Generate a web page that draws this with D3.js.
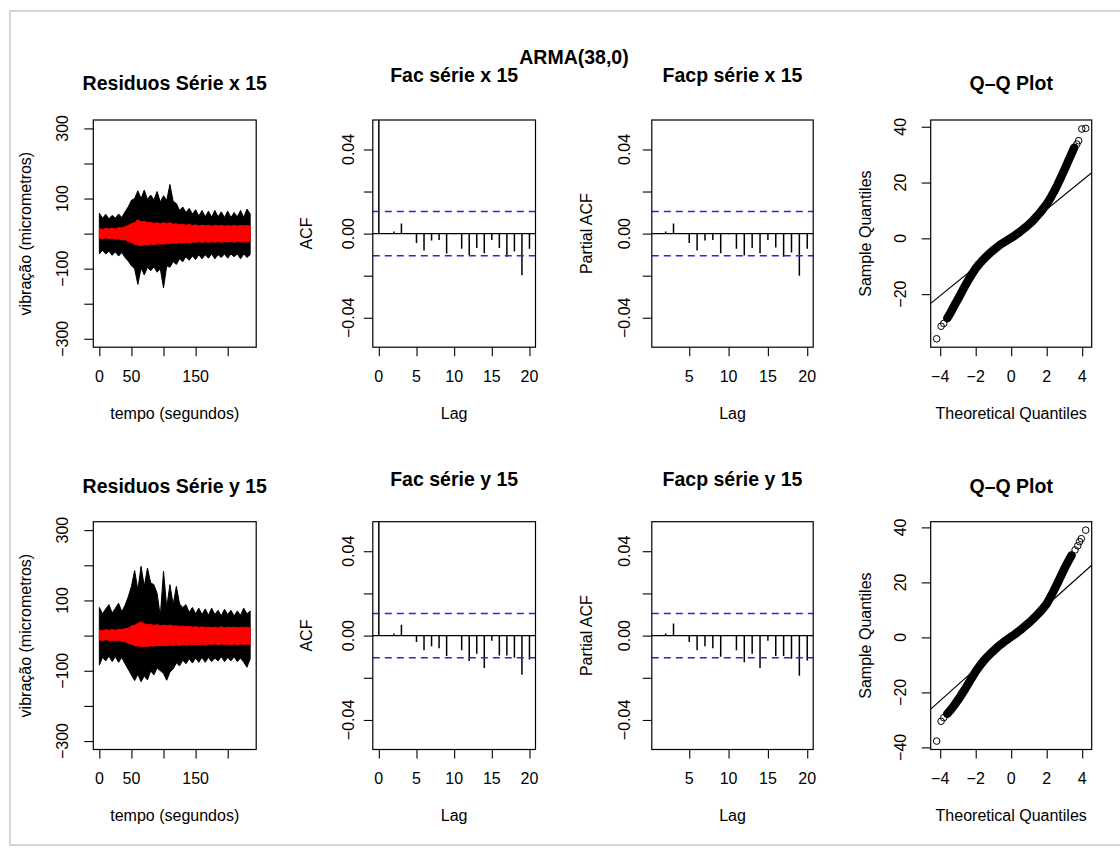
<!DOCTYPE html>
<html>
<head>
<meta charset="utf-8">
<script src="https://cdn.jsdelivr.net/npm/d3@7"></script>
<style>
body { margin: 0; background: #fff; }
svg text { font-family: "Liberation Sans", Arial, Helvetica, sans-serif; fill: #000; }
</style>
</head>
<body>
<div id="chart"></div>
<script>
// tempo (s) for the residual envelopes, 5 s bins
var tempo = [0,5,10,15,20,25,30,35,40,45,50,55,60,65,70,75,80,85,90,95,100,105,110,115,120,125,130,135,140,145,150,155,160,165,170,175,180,185,190,195,200,205,210,215,220,225,230,235];

// serie x 15: residual (black) and fitted (red) envelopes, micrometros
var xResMax = [58,44,55,42,52,44,56,46,62,76,95,100,122,100,124,98,110,96,120,90,108,95,140,92,86,66,76,60,72,56,68,50,66,48,64,47,66,48,62,46,64,46,60,48,66,46,70,56];
var xResMin = [-58,-48,-58,-50,-62,-52,-64,-54,-68,-78,-92,-100,-145,-98,-118,-96,-106,-95,-110,-100,-155,-92,-96,-80,-88,-72,-80,-66,-76,-64,-74,-60,-72,-60,-70,-58,-72,-60,-68,-58,-70,-58,-66,-58,-72,-58,-68,-60];
var xFitMax = [14,12,15,13,16,14,17,16,20,23,29,31,40,33,35,31,32,29,31,28,31,29,31,27,28,25,27,24,26,23,25,22,24,22,24,21,24,22,23,21,23,21,23,21,23,22,23,21];
var xFitMin = [-13,-15,-12,-15,-13,-16,-15,-18,-17,-23,-25,-31,-32,-35,-32,-33,-30,-31,-29,-30,-30,-29,-28,-27,-28,-25,-27,-24,-26,-24,-25,-23,-25,-23,-25,-23,-25,-22,-25,-23,-24,-22,-25,-22,-24,-23,-24,-22];

// serie y 15
var yResMax = [80,62,76,88,64,78,92,68,86,110,140,185,130,197,140,192,150,145,120,55,183,80,145,88,140,90,80,88,66,80,62,78,60,76,58,78,60,72,56,75,60,72,56,70,58,78,62,70];
var yResMin = [-84,-62,-72,-58,-74,-60,-76,-62,-80,-96,-112,-128,-110,-131,-115,-126,-100,-112,-92,-100,-108,-127,-104,-95,-78,-86,-70,-80,-66,-78,-64,-76,-62,-76,-62,-74,-64,-72,-60,-74,-62,-72,-60,-74,-64,-76,-90,-66];
var yFitMax = [16,14,17,15,17,15,18,17,20,21,27,29,35,39,34,31,32,29,31,28,30,28,30,27,28,26,27,25,26,24,26,23,25,23,24,22,24,22,25,22,24,23,24,22,24,23,24,22];
var yFitMin = [-12,-14,-11,-14,-13,-15,-13,-16,-17,-22,-24,-29,-29,-32,-30,-31,-29,-30,-28,-29,-28,-29,-27,-28,-26,-28,-25,-27,-25,-26,-25,-26,-24,-26,-24,-26,-23,-26,-24,-25,-24,-26,-23,-26,-24,-25,-24,-26];

// autocorrelations
var acfLags = [0,1,2,3,4,5,6,7,8,9,10,11,12,13,14,15,16,17,18,19,20];
var pacfLags = [1,2,3,4,5,6,7,8,9,10,11,12,13,14,15,16,17,18,19,20];
var acfX = [1,0.0003,0.001,0.0048,0.0003,-0.0045,-0.008,-0.0033,-0.003,-0.0095,-0.0003,-0.0072,-0.0102,-0.0068,-0.0094,-0.003,-0.0068,-0.011,-0.0085,-0.0198,-0.0072];
var pacfX = [0.0003,0.001,0.0048,0.0002,-0.0045,-0.008,-0.0033,-0.003,-0.0093,-0.0003,-0.0072,-0.0104,-0.0068,-0.0094,-0.003,-0.0066,-0.011,-0.009,-0.020,-0.0072];
var acfY = [1,0.0002,0.001,0.0052,0.0002,-0.003,-0.007,-0.005,-0.006,-0.0097,-0.0002,-0.007,-0.012,-0.0086,-0.0154,-0.0024,-0.0094,-0.0094,-0.0105,-0.0186,-0.0113];
var pacfY = [0.0002,0.001,0.0057,0.0002,-0.003,-0.007,-0.005,-0.006,-0.010,-0.0002,-0.007,-0.0126,-0.0086,-0.0154,-0.0024,-0.0097,-0.0097,-0.011,-0.019,-0.0118];
var ciLimit = 0.0105;

// normal Q-Q points (theoretical, sample)
var qqTheoX = [-4.2,-3.95,-3.8,-3.6,-3.4,-3.2,-3.0,-2.8,-2.6,-2.4,-2.2,-2.0,-1.8,-1.6,-1.4,-1.2,-1.0,-0.8,-0.6,-0.4,-0.2,0,0.2,0.4,0.6,0.8,1.0,1.2,1.4,1.6,1.8,2.0,2.2,2.4,2.6,2.8,3.0,3.2,3.4,3.55,3.7,3.8,3.98,4.2];
var qqSampX = [-36.0,-31.5,-30.5,-28.6,-26.5,-24.0,-21.8,-19.4,-17.0,-14.8,-12.7,-10.8,-9.2,-7.8,-6.5,-5.3,-4.2,-3.2,-2.2,-1.4,-0.6,0.2,1.0,1.9,2.9,3.9,5.0,6.2,7.6,9.0,10.6,12.3,14.3,16.6,19.1,21.8,24.6,27.5,30.3,32.5,33.8,35.0,39.2,39.4];
var qqTheoY = [-4.2,-3.95,-3.8,-3.6,-3.4,-3.2,-3.0,-2.8,-2.6,-2.4,-2.2,-2.0,-1.8,-1.6,-1.4,-1.2,-1.0,-0.8,-0.6,-0.4,-0.2,0,0.2,0.4,0.6,0.8,1.0,1.2,1.4,1.6,1.8,2.0,2.2,2.4,2.6,2.8,3.0,3.2,3.4,3.6,3.75,3.85,3.95,4.2];
var qqSampY = [-37.7,-30.5,-29.2,-27.8,-26.3,-24.6,-22.8,-20.8,-18.8,-16.6,-14.5,-12.4,-10.6,-8.9,-7.4,-6.1,-4.9,-3.7,-2.6,-1.6,-0.7,0.2,1.1,2.1,3.1,4.2,5.3,6.5,7.8,9.1,10.6,12.2,14.5,17.0,19.6,22.3,25.0,27.5,29.8,31.8,33.3,34.8,35.9,39.0];
var qqLineX = [0.1, 5.16]; // intercept, slope
var qqLineY = [0.1, 5.77];

// tick values / labels
var resTicksX = [0,50,100,150,200], resLabelsX = [0,50,150];
var resTicksY = [-300,-200,-100,0,100,200,300], resLabelsY = [-300,-100,100,300];
var acfTicksY = [-0.04,-0.02,0,0.02,0.04], acfLabelsY = [-0.04,0,0.04];
var acfTicksX = [0,5,10,15,20], pacfTicksX = [5,10,15,20];
var qqTicksX = [-4,-2,0,2,4];

var width = 1120, height = 849;
var rows = [
    {top: 120, bottom: 347.2, title1: 83, title2: 75},
    {top: 521.7, bottom: 749.5, title1: 485.5, title2: 478.5}
];
var cols = {res: [93.3, 256.2], acf: [372.8, 535.5], pacf: [651.8, 813.2], qq: [930.7, 1091.7]};
var clipCount = 0;

var svg = d3.select("#chart").append("svg")
    .attr("width", width)
    .attr("height", height);

// page frame
svg.append("rect")
    .attr("x", 10).attr("y", 11)
    .attr("width", 1125).attr("height", 834)
    .attr("fill", "none")
    .attr("stroke", "#d6d6d6")
    .attr("stroke-width", 2);

svg.append("text")
    .attr("x", 574).attr("y", 57)
    .attr("text-anchor", "middle")
    .attr("dominant-baseline", "central")
    .style("font-size", "19.5px").style("font-weight", "bold")
    .text("ARMA(38,0)");

function make_panel(col, row) {
    clipCount++;
    var id = "clip" + clipCount;
    svg.append("clipPath").attr("id", id)
        .append("rect")
        .attr("x", col[0]).attr("y", row.top)
        .attr("width", col[1] - col[0]).attr("height", row.bottom - row.top);
    var g = svg.append("g");
    var inner = g.append("g").attr("clip-path", "url(#" + id + ")");
    return {g: g, inner: inner};
}

function finish_panel(p, col, row, x, y, o) {
    p.g.append("rect")
        .attr("x", col[0]).attr("y", row.top)
        .attr("width", col[1] - col[0]).attr("height", row.bottom - row.top)
        .attr("fill", "none").attr("stroke", "#000").attr("stroke-width", 1.2);

    var xa = p.g.append("g")
        .attr("transform", "translate(0," + row.bottom + ")")
        .call(d3.axisBottom(x).tickValues(o.xTicks).tickSize(9).tickFormat(""));
    xa.select(".domain").remove();
    var ya = p.g.append("g")
        .attr("transform", "translate(" + col[0] + ",0)")
        .call(d3.axisLeft(y).tickValues(o.yTicks).tickSize(9).tickFormat(""));
    ya.select(".domain").remove();
    p.g.selectAll(".tick line").attr("stroke", "#000").attr("stroke-width", 1.1);

    p.g.selectAll(".xlab").data(o.xLabels).enter().append("text")
        .attr("x", function (d) { return x(d); })
        .attr("y", row.bottom + 29)
        .attr("text-anchor", "middle")
        .attr("dominant-baseline", "central")
        .style("font-size", "16px")
        .text(d3.format("d"));

    p.g.selectAll(".ylab").data(o.yLabels).enter().append("text")
        .attr("transform", function (d) {
            return "translate(" + (col[0] - o.yOff) + "," + y(d) + ") rotate(-90)";
        })
        .attr("text-anchor", "middle")
        .attr("dominant-baseline", "central")
        .style("font-size", "16px")
        .text(o.fmtY);

    p.g.append("text")
        .attr("x", (col[0] + col[1]) / 2)
        .attr("y", row.bottom + 66)
        .attr("text-anchor", "middle")
        .attr("dominant-baseline", "central")
        .style("font-size", "16px")
        .text(o.xTitle);

    p.g.append("text")
        .attr("transform", "translate(" + (col[0] - o.yTitleOff) + "," + ((row.top + row.bottom) / 2) + ") rotate(-90)")
        .attr("text-anchor", "middle")
        .attr("dominant-baseline", "central")
        .style("font-size", "16px")
        .text(o.yTitle);

    p.g.append("text")
        .attr("x", (col[0] + col[1]) / 2)
        .attr("y", o.titleY)
        .attr("text-anchor", "middle")
        .attr("dominant-baseline", "central")
        .style("font-size", "19.5px").style("font-weight", "bold")
        .text(o.title);
}

function fill_residual(row, title, resMax, resMin, fitMax, fitMin) {
    var col = cols.res;
    var x = d3.scaleLinear().domain([-9.4, 244.4]).range([col[0], col[1]]);
    var y = d3.scaleLinear().domain([-324, 324]).range([row.bottom, row.top]);
    var p = make_panel(col, row);

    // dense series: each bin drawn as its min..max envelope
    var black = d3.area()
        .x(function (d, i) { return x(tempo[i]); })
        .y0(function (d, i) { return y(resMin[i]); })
        .y1(function (d, i) { return y(resMax[i]); });
    p.inner.append("path").datum(tempo).attr("d", black)
        .attr("fill", "#000").attr("stroke", "#000").attr("stroke-width", 1);

    var red = d3.area()
        .x(function (d, i) { return x(tempo[i]); })
        .y0(function (d, i) { return y(fitMin[i]); })
        .y1(function (d, i) { return y(fitMax[i]); });
    p.inner.append("path").datum(tempo).attr("d", red)
        .attr("fill", "#ff0000").attr("stroke", "#ff0000").attr("stroke-width", 1);

    finish_panel(p, col, row, x, y, {
        xTicks: resTicksX, yTicks: resTicksY, xLabels: resLabelsX, yLabels: resLabelsY,
        fmtY: d3.format("d"), yOff: 31, yTitleOff: 67.5,
        xTitle: "tempo (segundos)", yTitle: "vibração (micrometros)",
        title: title, titleY: row.title1
    });
}

function fill_acf(row, col, title, lags, values, partial) {
    var x = d3.scaleLinear()
        .domain(partial ? [0.24, 20.76] : [-0.8, 20.8])
        .range([col[0], col[1]]);
    var y = d3.scaleLinear().domain([-0.054, 0.054]).range([row.bottom, row.top]);
    var p = make_panel(col, row);

    p.inner.append("line")
        .attr("x1", col[0]).attr("x2", col[1])
        .attr("y1", y(0)).attr("y2", y(0))
        .attr("stroke", "#000").attr("stroke-width", 1.2);

    p.inner.selectAll(".bar").data(values).enter().append("line")
        .attr("x1", function (d, i) { return x(lags[i]); })
        .attr("x2", function (d, i) { return x(lags[i]); })
        .attr("y1", y(0))
        .attr("y2", function (d) { return y(d); })
        .attr("stroke", "#000").attr("stroke-width", 1.5);

    p.inner.selectAll(".ci").data([ciLimit, -ciLimit]).enter().append("line")
        .attr("x1", col[0]).attr("x2", col[1])
        .attr("y1", function (d) { return y(d); })
        .attr("y2", function (d) { return y(d); })
        .attr("stroke", "#2626e8").attr("stroke-width", 1.4)
        .attr("stroke-dasharray", "7,5");

    finish_panel(p, col, row, x, y, {
        xTicks: partial ? pacfTicksX : acfTicksX, yTicks: acfTicksY,
        xLabels: partial ? pacfTicksX : acfTicksX, yLabels: acfLabelsY,
        fmtY: d3.format(".2f"), yOff: partial ? 27 : 24, yTitleOff: partial ? 65 : 66.5,
        xTitle: "Lag", yTitle: partial ? "Partial ACF" : "ACF",
        title: title, titleY: row.title2
    });
}

function fill_qq(row, theo, samp, qqline, yTicks) {
    var col = cols.qq;
    var ex = d3.extent(theo), ey = d3.extent(samp);
    var px = (ex[1] - ex[0]) * 0.04, py = (ey[1] - ey[0]) * 0.04;
    var x = d3.scaleLinear().domain([ex[0] - px, ex[1] + px]).range([col[0], col[1]]);
    var y = d3.scaleLinear().domain([ey[0] - py, ey[1] + py]).range([row.bottom, row.top]);
    var p = make_panel(col, row);

    // dense part of the sample, where the circles overlap into a band
    var band = d3.line()
        .x(function (d) { return x(theo[d]); })
        .y(function (d) { return y(samp[d]); });
    var idx = [];
    theo.forEach(function (t, i) { if (t > -3.7 && t < 3.6) idx.push(i); });
    p.inner.append("path").datum(idx).attr("d", band)
        .attr("fill", "none").attr("stroke", "#000")
        .attr("stroke-width", 8.5).attr("stroke-linejoin", "round").attr("stroke-linecap", "round");

    p.inner.selectAll("circle").data(samp).enter().append("circle")
        .attr("cx", function (d, i) { return x(theo[i]); })
        .attr("cy", function (d) { return y(d); })
        .attr("r", 3.3)
        .attr("fill", "none").attr("stroke", "#000").attr("stroke-width", 1);

    var xd = x.domain();
    p.inner.append("line")
        .attr("x1", x(xd[0])).attr("y1", y(qqline[0] + qqline[1] * xd[0]))
        .attr("x2", x(xd[1])).attr("y2", y(qqline[0] + qqline[1] * xd[1]))
        .attr("stroke", "#000").attr("stroke-width", 1.2);

    finish_panel(p, col, row, x, y, {
        xTicks: qqTicksX, yTicks: yTicks, xLabels: qqTicksX, yLabels: yTicks,
        fmtY: d3.format("d"), yOff: 30, yTitleOff: 65,
        xTitle: "Theoretical Quantiles", yTitle: "Sample Quantiles",
        title: "Q\u2013Q Plot", titleY: row.title1
    });
}

fill_residual(rows[0], "Residuos Série x 15", xResMax, xResMin, xFitMax, xFitMin);
fill_acf(rows[0], cols.acf, "Fac série x 15", acfLags, acfX, false);
fill_acf(rows[0], cols.pacf, "Facp série x 15", pacfLags, pacfX, true);
fill_qq(rows[0], qqTheoX, qqSampX, qqLineX, [-20, 0, 20, 40]);

fill_residual(rows[1], "Residuos Série y 15", yResMax, yResMin, yFitMax, yFitMin);
fill_acf(rows[1], cols.acf, "Fac série y 15", acfLags, acfY, false);
fill_acf(rows[1], cols.pacf, "Facp série y 15", pacfLags, pacfY, true);
fill_qq(rows[1], qqTheoY, qqSampY, qqLineY, [-40, -20, 0, 20, 40]);
</script>
</body>
</html>
